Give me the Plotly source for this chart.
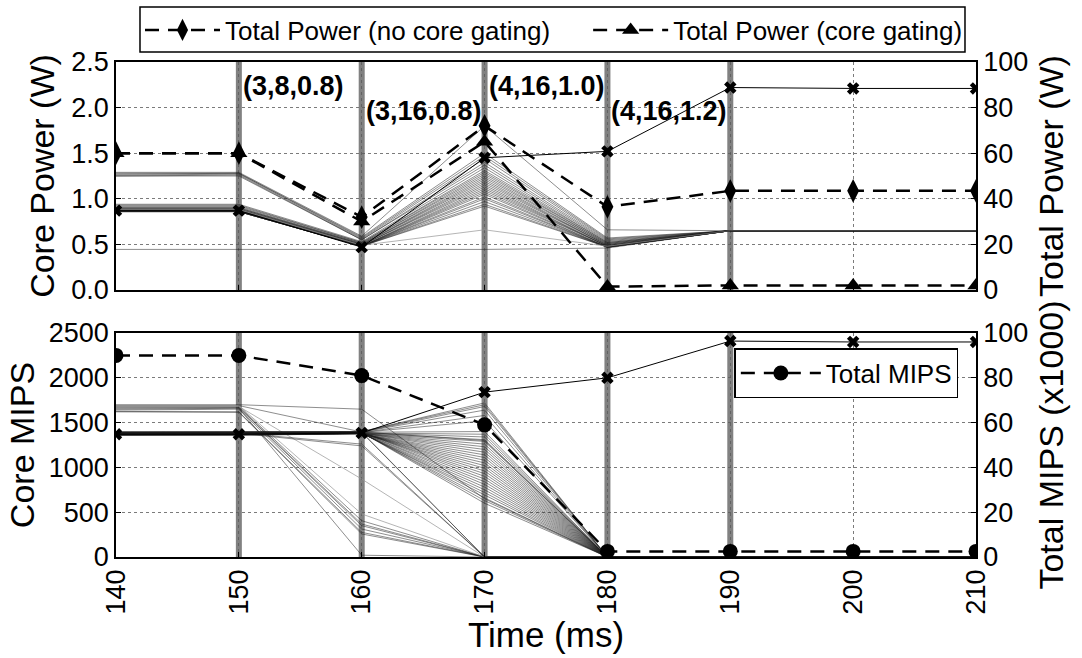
import plotly.graph_objects as go
from plotly.subplots import make_subplots

# ---------------- data ----------------
time_ms = [140, 150, 160, 170, 180, 190, 200, 210]
event_times = [150, 160, 170, 180, 190]
event_labels = ["(3,8,0.8)", "(3,16,0.8)", "(4,16,1.0)", "(4,16,1.2)"]
event_label_y = [2.24, 1.96, 2.24, 1.96]

total_power_no_gating = [60, 60, 32, 72, 36.5, 43.5, 43.5, 43.5]
total_power_gating = [60, 60, 30, 65, 1.5, 2, 2, 2]
total_mips_k = [90, 90, 81, 59, 2.5, 2.5, 2.5, 2.5]

marked_core_power = [0.87, 0.87, 0.47, 1.45, 1.52, 2.22, 2.21, 2.21]
marked_core_mips = [1370, 1370, 1385, 1840, 2000, 2410, 2400, 2400]

core_power = [
    [1.29, 1.29, 0.59, 1.80, 0.66, 0.65, 0.65, 0.65],
    [1.28, 1.28, 0.58, 1.50, 0.57, 0.65, 0.65, 0.65],
    [1.27, 1.28, 0.57, 1.47, 0.56, 0.65, 0.65, 0.65],
    [1.26, 1.27, 0.56, 1.44, 0.55, 0.65, 0.65, 0.65],
    [1.25, 1.26, 0.55, 1.40, 0.54, 0.65, 0.65, 0.65],
    [1.25, 1.25, 0.55, 1.37, 0.53, 0.65, 0.65, 0.65],
    [0.94, 0.94, 0.53, 1.34, 0.52, 0.65, 0.65, 0.65],
    [0.93, 0.93, 0.52, 1.31, 0.52, 0.65, 0.65, 0.65],
    [0.92, 0.92, 0.52, 1.29, 0.51, 0.65, 0.65, 0.65],
    [0.91, 0.91, 0.51, 1.27, 0.51, 0.65, 0.65, 0.65],
    [0.90, 0.90, 0.51, 1.25, 0.50, 0.65, 0.65, 0.65],
    [0.90, 0.90, 0.50, 1.23, 0.50, 0.65, 0.65, 0.65],
    [0.89, 0.89, 0.50, 1.21, 0.49, 0.65, 0.65, 0.65],
    [0.89, 0.89, 0.50, 1.19, 0.49, 0.65, 0.65, 0.65],
    [0.88, 0.88, 0.49, 1.17, 0.49, 0.65, 0.65, 0.65],
    [0.88, 0.88, 0.49, 1.15, 0.48, 0.65, 0.65, 0.65],
    [0.88, 0.88, 0.49, 1.13, 0.48, 0.65, 0.65, 0.65],
    [0.87, 0.87, 0.48, 1.11, 0.48, 0.65, 0.65, 0.65],
    [0.87, 0.87, 0.48, 1.09, 0.48, 0.65, 0.65, 0.65],
    [0.87, 0.87, 0.48, 1.07, 0.47, 0.65, 0.65, 0.65],
    [0.86, 0.86, 0.48, 1.05, 0.47, 0.65, 0.65, 0.65],
    [0.86, 0.86, 0.48, 1.02, 0.47, 0.65, 0.65, 0.65],
    [0.86, 0.86, 0.48, 1.00, 0.47, 0.65, 0.65, 0.65],
    [0.86, 0.86, 0.48, 0.97, 0.47, 0.65, 0.65, 0.65],
    [0.86, 0.86, 0.48, 0.94, 0.47, 0.65, 0.65, 0.65],
    [0.86, 0.86, 0.48, 0.92, 0.47, 0.65, 0.65, 0.65],
    [0.88, 0.88, 0.49, 0.66, 0.48, 0.65, 0.65, 0.65],
    [0.445, 0.445, 0.445, 0.445, 0.46, 0.65, 0.65, 0.65],
]
light_power_rows = [26]

core_mips = [
    # cores starting in the upper group
    [1700, 1700, 1650, 650, 0, 0, 0, 0],
    [1690, 1690, 1395, 1300, 0, 0, 0, 0],
    [1680, 1680, 405, 0, 0, 0, 0, 0],
    [1670, 1670, 368, 0, 0, 0, 0, 0],
    [1660, 1665, 350, 0, 0, 0, 0, 0],
    [1640, 1650, 312, 0, 0, 0, 0, 0],
    [1625, 1620, 275, 0, 0, 0, 0, 0],
    [1620, 1615, 257, 0, 0, 0, 0, 0],
    [1690, 1690, 480, 0, 0, 0, 0, 0],
    [1650, 1660, 20, 0, 0, 0, 0, 0],
    [1680, 1680, 870, 0, 0, 0, 0, 0],
    # cores starting in the main band
    [1380, 1385, 1260, 0, 0, 0, 0, 0],
    [1375, 1380, 1240, 0, 0, 0, 0, 0],
    [1390, 1390, 1395, 0, 0, 0, 0, 0],
    [1385, 1390, 1390, 0, 0, 0, 0, 0],
    [1400, 1400, 1400, 1720, 0, 0, 0, 0],
    [1395, 1400, 1400, 1700, 0, 0, 0, 0],
    [1390, 1395, 1395, 1680, 0, 0, 0, 0],
    [1390, 1390, 1395, 1640, 0, 0, 0, 0],
    [1385, 1390, 1390, 1580, 0, 0, 0, 0],
    [1385, 1385, 1390, 1520, 0, 0, 0, 0],
    [1380, 1385, 1390, 1400, 0, 0, 0, 0],
    [1380, 1380, 1385, 1370, 0, 0, 0, 0],
    [1375, 1380, 1385, 1340, 0, 0, 0, 0],
    [1375, 1375, 1385, 1310, 0, 0, 0, 0],
    [1370, 1375, 1380, 1290, 0, 0, 0, 0],
    [1370, 1370, 1380, 1260, 0, 0, 0, 0],
    [1370, 1370, 1380, 1230, 0, 0, 0, 0],
    [1365, 1370, 1380, 1200, 0, 0, 0, 0],
    [1365, 1365, 1380, 1170, 0, 0, 0, 0],
    [1365, 1365, 1375, 1140, 0, 0, 0, 0],
    [1360, 1365, 1375, 1110, 0, 0, 0, 0],
    [1360, 1360, 1375, 1080, 0, 0, 0, 0],
    [1360, 1360, 1375, 1050, 0, 0, 0, 0],
    [1365, 1365, 1380, 1020, 0, 0, 0, 0],
    [1370, 1370, 1380, 990, 0, 0, 0, 0],
    [1375, 1375, 1385, 960, 0, 0, 0, 0],
    [1380, 1380, 1385, 930, 0, 0, 0, 0],
    [1385, 1385, 1390, 900, 0, 0, 0, 0],
    [1390, 1390, 1390, 870, 0, 0, 0, 0],
    [1380, 1380, 1385, 840, 0, 0, 0, 0],
    [1375, 1375, 1385, 810, 0, 0, 0, 0],
    [1370, 1370, 1380, 780, 0, 0, 0, 0],
    [1365, 1365, 1380, 750, 0, 0, 0, 0],
    [1370, 1370, 1380, 720, 0, 0, 0, 0],
    [1375, 1375, 1385, 690, 0, 0, 0, 0],
    [1380, 1380, 1385, 660, 0, 0, 0, 0],
    [1385, 1385, 1390, 630, 0, 0, 0, 0],
    [1390, 1390, 1390, 600, 0, 0, 0, 0],
]
light_mips_rows = [8, 10]

# ---------------- styling ----------------
FONT = "Liberation Sans"
CORE_COLOR = "rgba(30,30,30,0.5)"
LIGHT_COLOR = "rgba(150,150,150,0.7)"
BAR_COLOR = "rgba(115,115,115,0.9)"
DASH = "14px,9px"

fig = make_subplots(rows=2, cols=1, shared_xaxes=True,
                    specs=[[{"secondary_y": True}], [{"secondary_y": True}]])

# --- top: core power lines
for i, row in enumerate(core_power):
    fig.add_trace(go.Scatter(
        x=time_ms, y=row, mode="lines", showlegend=False, hoverinfo="skip",
        line=dict(color=LIGHT_COLOR if i in light_power_rows else CORE_COLOR, width=1)),
        row=1, col=1, secondary_y=False)
fig.add_trace(go.Scatter(
    x=time_ms, y=marked_core_power, mode="lines+markers", showlegend=False,
    line=dict(color="black", width=1),
    marker=dict(symbol="x", size=11, color="black")),
    row=1, col=1, secondary_y=False)

fig.add_trace(go.Scatter(
    x=time_ms, y=total_power_no_gating, mode="lines+markers",
    name="Total Power (no core gating)", legend="legend",
    line=dict(color="black", width=2.5, dash=DASH),
    marker=dict(symbol="diamond-tall", size=17, color="black")),
    row=1, col=1, secondary_y=True)
fig.add_trace(go.Scatter(
    x=time_ms, y=total_power_gating, mode="lines+markers",
    name="Total Power (core gating)", legend="legend3",
    line=dict(color="black", width=2.5, dash=DASH),
    marker=dict(symbol="triangle-up", size=15, color="black")),
    row=1, col=1, secondary_y=True)

# --- bottom: core MIPS lines
for i, row in enumerate(core_mips):
    fig.add_trace(go.Scatter(
        x=time_ms, y=row, mode="lines", showlegend=False, hoverinfo="skip",
        line=dict(color=LIGHT_COLOR if i in light_mips_rows else CORE_COLOR, width=1)),
        row=2, col=1, secondary_y=False)
fig.add_trace(go.Scatter(
    x=time_ms, y=marked_core_mips, mode="lines+markers", showlegend=False,
    line=dict(color="black", width=1),
    marker=dict(symbol="x", size=11, color="black")),
    row=2, col=1, secondary_y=False)
fig.add_trace(go.Scatter(
    x=time_ms, y=total_mips_k, mode="lines+markers",
    name="Total MIPS", legend="legend2",
    line=dict(color="black", width=2.5, dash=DASH),
    marker=dict(symbol="circle", size=15, color="black")),
    row=2, col=1, secondary_y=True)

# --- vertical event bars (both panels)
shapes = []
for t in event_times:
    for xr, yr in (("x", "y domain"), ("x2", "y3 domain")):
        shapes.append(dict(type="line", xref=xr, yref=yr, x0=t, x1=t, y0=0, y1=1,
                           line=dict(color=BAR_COLOR, width=6), layer="below"))
# frame enclosing the two top legend entries
shapes.append(dict(type="rect", xref="paper", yref="paper",
                   x0=0.0279, x1=0.9872, y0=1.0202, y1=1.1111,
                   line=dict(color="black", width=1.5), fillcolor="rgba(0,0,0,0)"))

# --- configuration annotations
annotations = []
for t, lab, ly in zip(event_times, event_labels, event_label_y):
    annotations.append(dict(x=t, y=ly, xref="x", yref="y", text="<b>" + lab + "</b>",
                            showarrow=False, xanchor="left", yanchor="middle", xshift=2,
                            font=dict(family=FONT, size=27, color="black")))

tick_font = dict(family=FONT, size=27, color="black")
title_font = dict(family=FONT, size=34, color="black")
axis_common = dict(showline=True, linecolor="black", linewidth=1.5, ticks="inside",
                   ticklen=5, tickcolor="black", tickfont=tick_font, automargin=False)
grid = dict(showgrid=True, gridcolor="rgba(90,90,90,0.8)", griddash="dot", gridwidth=1)
leg_font = dict(family=FONT, size=26, color="black")

fig.update_layout(
    width=1082, height=658,
    margin=dict(l=116, r=106, t=62, b=101, autoexpand=False),
    paper_bgcolor="white", plot_bgcolor="white",
    font=dict(family=FONT, color="black"),
    shapes=shapes, annotations=annotations,
    showlegend=True,
    legend=dict(x=0.0279, y=1.0646, xanchor="left", yanchor="middle",
                borderwidth=0, bgcolor="rgba(0,0,0,0)", font=leg_font, itemwidth=75),
    legend3=dict(x=0.549, y=1.0646, xanchor="left", yanchor="middle",
                 borderwidth=0, bgcolor="rgba(0,0,0,0)", font=leg_font, itemwidth=75),
    legend2=dict(x=0.719, y=0.422, xanchor="left", yanchor="top",
                 bordercolor="black", borderwidth=1.5, bgcolor="white",
                 font=leg_font, itemwidth=80),
    xaxis=dict(domain=[0, 1], range=[140, 210], tickvals=time_ms, showticklabels=False,
               mirror=True, **axis_common, **grid),
    xaxis2=dict(domain=[0, 1], range=[140, 210], tickvals=time_ms,
                ticktext=[str(t) for t in time_ms], tickangle=-90, mirror=True,
                title=dict(text="Time (ms)", font=dict(family=FONT, size=35, color="black"),
                           standoff=2),
                **axis_common, **grid),
    yaxis=dict(domain=[0.5394, 1.0], range=[0, 2.5], tickvals=[0, 0.5, 1.0, 1.5, 2.0, 2.5],
               tickformat=".1f",
               title=dict(text="Core Power (W)", font=title_font, standoff=6),
               **axis_common, **grid),
    yaxis2=dict(domain=[0.5394, 1.0], range=[0, 100], tickvals=[0, 20, 40, 60, 80, 100],
                showgrid=False, title=dict(text="Total Power (W)", font=title_font, standoff=12),
                **axis_common),
    yaxis3=dict(domain=[0.0, 0.4525], range=[0, 2500], tickvals=[0, 500, 1000, 1500, 2000, 2500],
                title=dict(text="Core MIPS", font=title_font, standoff=4),
                **axis_common, **grid),
    yaxis4=dict(domain=[0.0, 0.4525], range=[0, 100], tickvals=[0, 20, 40, 60, 80, 100],
                showgrid=False, title=dict(text="Total MIPS (x1000)", font=title_font, standoff=12),
                **axis_common),
)

fig.write_html("out.html")
